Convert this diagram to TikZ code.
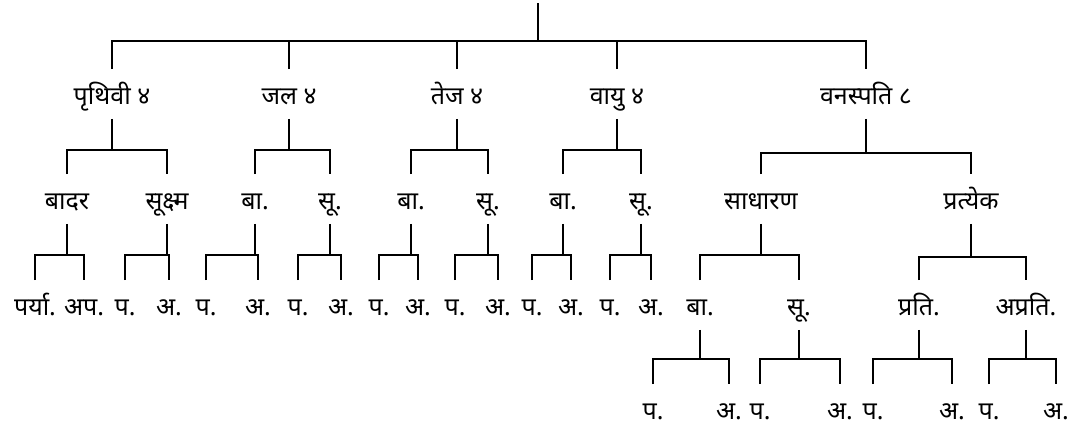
\documentclass[tikz,border=0pt]{standalone}
\usepackage{fontspec}
\newfontfamily\dev[Script=Devanagari]{Noto Sans}

\begin{document}
\begin{tikzpicture}[
    x=1pt, y=-1pt,
    line width=1.8pt,
    every node/.style={font=\dev\fontsize{25}{29}\selectfont, anchor=base,
      inner sep=0pt, text height=34pt, text depth=14pt}
    ]
    \useasboundingbox (0,0) rectangle (1076,429);
    \coordinate (root) at (538,3);
    \node (pw) at (112,104) {पृथिवी ४};
    \node (jl) at (289,104) {जल ४};
    \node (tj) at (457,104) {तेज ४};
    \node (vy) at (617,104) {वायु ४};
    \node (vn) at (866,104) {वनस्पति ८};

    \node (bd) at (67,209) {बादर};
    \node (sk) at (167,209) {सूक्ष्म};
    \node (jb) at (255,209) {बा.};
    \node (js) at (330,209) {सू.};
    \node (tb) at (411,209) {बा.};
    \node (ts) at (488,209) {सू.};
    \node (vb) at (563,209) {बा.};
    \node (vs) at (641,209) {सू.};
    \node (sd) at (761,209) {साधारण};
    \node (pr) at (971,209) {प्रत्येक};

    \node (b1) at (35,315) {पर्या.};
    \node (b2) at (84,315) {अप.};
    \node (s1) at (125,315) {प.};
    \node (s2) at (169,315) {अ.};
    \node (j1) at (206,315) {प.};
    \node (j2) at (258,315) {अ.};
    \node (j3) at (298,315) {प.};
    \node (j4) at (341,315) {अ.};
    \node (t1) at (379,315) {प.};
    \node (t2) at (418,315) {अ.};
    \node (t3) at (455,315) {प.};
    \node (t4) at (498,315) {अ.};
    \node (v1) at (532,315) {प.};
    \node (v2) at (571,315) {अ.};
    \node (v3) at (610,315) {प.};
    \node (v4) at (651,315) {अ.};
    \node (sb) at (700,315) {बा.};
    \node (ss) at (799,315) {सू.};
    \node (pt) at (919,315) {प्रति.};
    \node (ap) at (1026,315) {अप्रति.};

    \node (q1) at (653,419) {प.};
    \node (q2) at (729,419) {अ.};
    \node (q3) at (760,419) {प.};
    \node (q4) at (840,419) {अ.};
    \node (q5) at (873,419) {प.};
    \node (q6) at (952,419) {अ.};
    \node (q7) at (989,419) {प.};
    \node (q8) at (1056,419) {अ.};

    % top bar
    \draw (root) -- (root |- 0,41);
    \draw (pw.north) |- (vn |- 0,41) -- (vn.north);
    \draw (jl.north) -- (jl |- 0,41);
    \draw (tj.north) -- (tj |- 0,41);
    \draw (vy.north) -- (vy |- 0,41);

    % second level
    \draw (pw.south) -- (pw |- 0,150) (bd.north) |- (sk |- 0,150) -- (sk.north);
    \draw (jl.south) -- (jl |- 0,150) (jb.north) |- (js |- 0,150) -- (js.north);
    \draw (tj.south) -- (tj |- 0,150) (tb.north) |- (ts |- 0,150) -- (ts.north);
    \draw (vy.south) -- (vy |- 0,150) (vb.north) |- (vs |- 0,150) -- (vs.north);
    \draw (vn.south) -- (vn |- 0,153) (sd.north) |- (pr |- 0,153) -- (pr.north);

    % third level
    \draw (bd.south) -- (bd |- 0,255) (b1.north) |- (b2 |- 0,255) -- (b2.north);
    \draw (sk.south) -- (sk |- 0,255) (s1.north) |- (s2 |- 0,255) -- (s2.north);
    \draw (jb.south) -- (jb |- 0,255) (j1.north) |- (j2 |- 0,255) -- (j2.north);
    \draw (js.south) -- (js |- 0,255) (j3.north) |- (j4 |- 0,255) -- (j4.north);
    \draw (tb.south) -- (tb |- 0,255) (t1.north) |- (t2 |- 0,255) -- (t2.north);
    \draw (ts.south) -- (ts |- 0,255) (t3.north) |- (t4 |- 0,255) -- (t4.north);
    \draw (vb.south) -- (vb |- 0,255) (v1.north) |- (v2 |- 0,255) -- (v2.north);
    \draw (vs.south) -- (vs |- 0,255) (v3.north) |- (v4 |- 0,255) -- (v4.north);
    \draw (sd.south) -- (sd |- 0,255) (sb.north) |- (ss |- 0,255) -- (ss.north);
    \draw (pr.south) -- (pr |- 0,257) (pt.north) |- (ap |- 0,257) -- (ap.north);

    % fourth level
    \draw (sb.south) -- (sb |- 0,359) (q1.north) |- (q2 |- 0,359) -- (q2.north);
    \draw (ss.south) -- (ss |- 0,359) (q3.north) |- (q4 |- 0,359) -- (q4.north);
    \draw (pt.south) -- (pt |- 0,359) (q5.north) |- (q6 |- 0,359) -- (q6.north);
    \draw (ap.south) -- (ap |- 0,359) (q7.north) |- (q8 |- 0,359) -- (q8.north);
\end{tikzpicture}
\end{document}
